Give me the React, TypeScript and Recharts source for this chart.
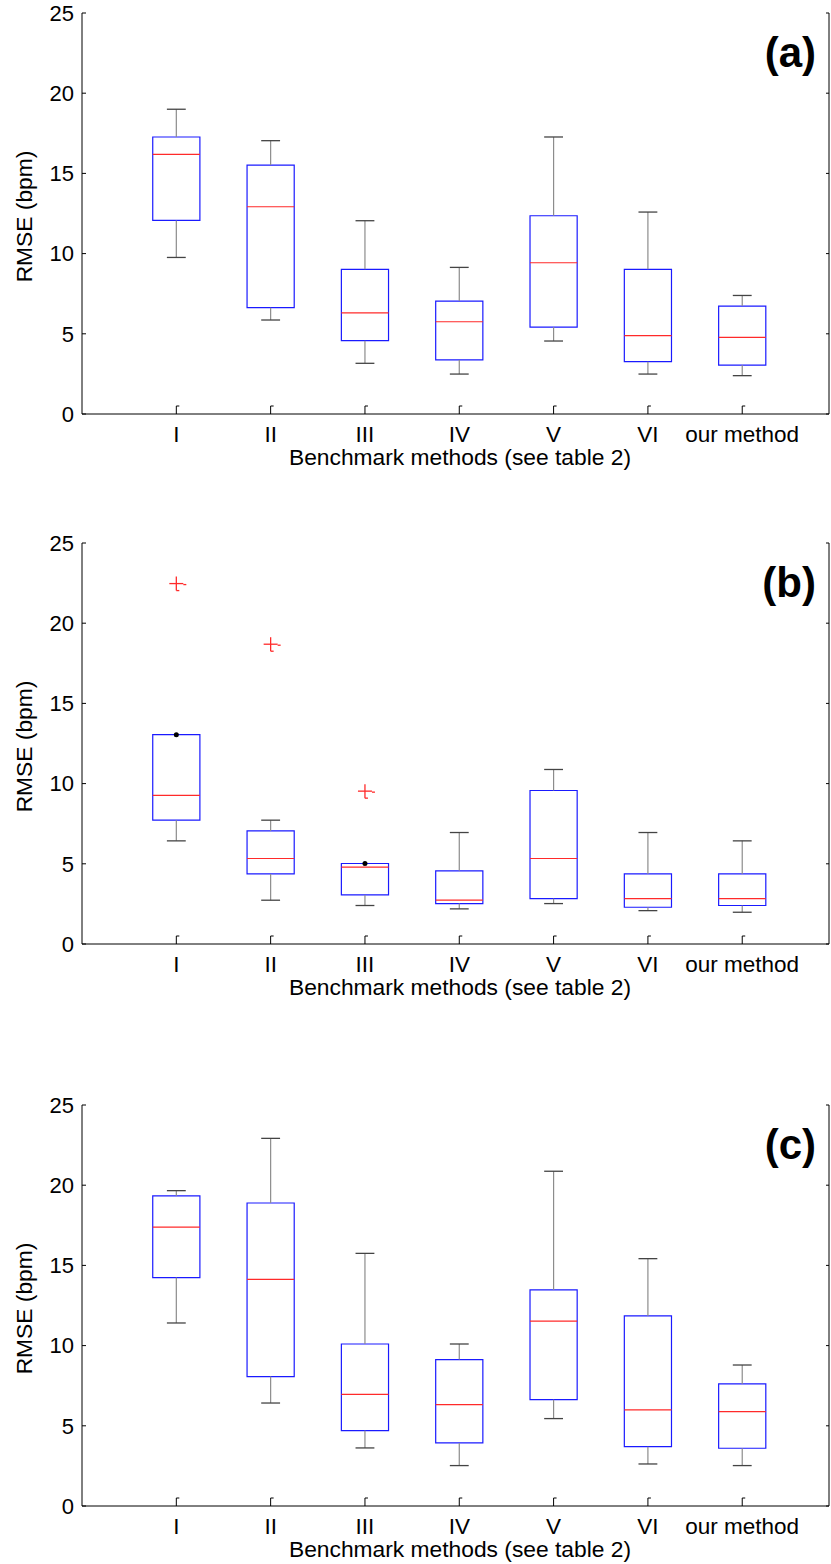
import React from "react";
import {
  ComposedChart,
  XAxis,
  YAxis,
  Scatter,
  ReferenceArea,
  ReferenceLine,
} from "recharts";

// categories / tick labels
const CATEGORIES = ["I", "II", "III", "IV", "V", "VI", "our method"];
const CAT_POS = [1, 2, 3, 4, 5, 6, 7];
const Y_TICKS = [0, 5, 10, 15, 20, 25];

// panel (a)
const A_LOW = [9.76, 5.86, 3.16, 2.49, 4.55, 2.49, 2.39];
const A_Q1 = [12.07, 6.63, 4.57, 3.37, 5.42, 3.26, 3.05];
const A_MED = [16.19, 12.92, 6.3, 5.75, 9.43, 4.88, 4.78];
const A_Q3 = [17.27, 15.52, 9.02, 7.04, 12.36, 9.02, 6.73];
const A_HIGH = [19.0, 17.04, 12.05, 9.14, 17.27, 12.59, 7.39];
const A_OUT_CAT: number[] = [];
const A_OUT_VAL: number[] = [];

// panel (b)
const B_LOW = [6.43, 2.73, 2.4, 2.19, 2.52, 2.08, 1.98];
const B_Q1 = [7.72, 4.37, 3.06, 2.52, 2.83, 2.29, 2.4];
const B_MED = [9.26, 5.33, 4.79, 2.73, 5.33, 2.83, 2.83];
const B_Q3 = [13.05, 7.05, 5.02, 4.56, 9.57, 4.37, 4.37];
const B_HIGH = [13.05, 7.72, 5.02, 6.95, 10.88, 6.95, 6.43];
const B_OUT_CAT = [1, 2, 3];
const B_OUT_VAL = [22.47, 18.69, 9.53];

// panel (c)
const C_LOW = [11.41, 6.42, 3.62, 2.52, 5.45, 2.62, 2.52];
const C_Q1 = [14.24, 8.07, 4.7, 3.93, 6.63, 3.7, 3.6];
const C_MED = [17.39, 14.13, 6.96, 6.32, 11.53, 5.99, 5.88];
const C_Q3 = [19.33, 18.89, 10.1, 9.13, 13.47, 11.85, 7.61];
const C_HIGH = [19.66, 22.92, 15.75, 10.1, 20.87, 15.42, 8.79];
const C_OUT_CAT: number[] = [];
const C_OUT_VAL: number[] = [];

const FONT = "'Liberation Sans', Arial, sans-serif";
const BOX_HALF = 0.25;
const CAP_HALF = 0.1;

const LeftTick = (props: any) => {
  const { x, y, payload } = props;
  return (
    <g>
      <line x1={x} x2={x + 4} y1={y} y2={y} stroke="#000" />
      <text x={x - 8} y={y + 7.8} textAnchor="end" fontSize={22} fontFamily={FONT} fill="#000">
        {payload.value}
      </text>
    </g>
  );
};

const RightTick = (props: any) => {
  const { x, y } = props;
  return <line x1={x - 3} x2={x} y1={y} y2={y} stroke="#000" />;
};

const BottomTick = (props: any) => {
  const { x, y, payload } = props;
  return (
    <g>
      <path d={`M${x},${y} V${y - 8} h3`} stroke="#000" fill="none" />
      <text x={x} y={y + 27.5} textAnchor="middle" fontSize={22.5} fontFamily={FONT} fill="#000">
        {CATEGORIES[payload.value - 1]}
      </text>
    </g>
  );
};

const TopTick = (props: any) => {
  const { x, y } = props;
  return <path d={`M${x},${y} V${y + 8} h3`} stroke="#000" fill="none" />;
};

const XLabel = (props: any) => {
  const vb = props.viewBox || { x: 82, y: 414, width: 747, height: 67 };
  return (
    <text x={vb.x + vb.width / 2 + 4.5} y={vb.y + 51} textAnchor="middle" fontSize={22.8} fontFamily={FONT} fill="#000">
      Benchmark methods (see table 2)
    </text>
  );
};

const YLabel = (props: any) => {
  const vb = props.viewBox || { x: 0, y: 13, width: 82, height: 401 };
  const cx = vb.x + 32;
  const cy = vb.y + vb.height / 2 + 3;
  return (
    <text x={cx} y={cy} transform={`rotate(-90 ${cx} ${cy})`} textAnchor="middle" fontSize={22.8} fontFamily={FONT} fill="#000">
      RMSE (bpm)
    </text>
  );
};

const PlusMark = (props: any) => {
  const { cx, cy } = props;
  return (
    <g stroke="#ff2a2a" strokeWidth={1.3} fill="none">
      <line x1={cx - 7} x2={cx + 7} y1={cy} y2={cy} />
      <line x1={cx} x2={cx} y1={cy - 7} y2={cy + 7} />
      <line x1={cx + 7} x2={cx + 10} y1={cy + 1} y2={cy + 1} />
      <line x1={cx} x2={cx + 3} y1={cy + 7} y2={cy + 7} />
    </g>
  );
};

const DotMark = (props: any) => {
  const { cx, cy } = props;
  return <circle cx={cx} cy={cy} r={2.5} fill="#000" />;
};

type PanelProps = {
  top: number;
  tag: string;
  low: number[];
  q1: number[];
  med: number[];
  q3: number[];
  high: number[];
  outCat: number[];
  outVal: number[];
};

function BoxPanel({ top, tag, low, q1, med, q3, high, outCat, outVal }: PanelProps) {
  const outliers = outCat.map((c, i) => ({ x: c, y: outVal[i] }));
  // whisker end equal to box edge is drawn as a dot
  const dots = CAT_POS.filter((_, i) => high[i] <= q3[i]).map((c) => ({ x: c, y: q3[c - 1] }));

  return (
    <div style={{ position: "absolute", left: 0, top, width: 831, height: 481 }}>
      <ComposedChart width={831} height={481} margin={{ top: 13, right: 0, bottom: 0, left: 0 }}>
        <XAxis
          type="number"
          dataKey="x"
          domain={[0, 7.92]}
          ticks={CAT_POS}
          interval={0}
          allowDataOverflow
          height={67}
          tickSize={0}
          tickMargin={0}
          tick={<BottomTick />}
          axisLine={{ stroke: "#000" }}
          label={<XLabel />}
        />
        <XAxis
          xAxisId="top"
          orientation="top"
          type="number"
          domain={[0, 7.92]}
          ticks={CAT_POS}
          interval={0}
          allowDataOverflow
          height={0}
          tickSize={0}
          tickMargin={0}
          tick={<TopTick />}
          axisLine={{ stroke: "#000" }}
        />
        <YAxis
          type="number"
          dataKey="y"
          domain={[0, 25]}
          ticks={Y_TICKS}
          interval={0}
          allowDataOverflow
          width={82}
          tickSize={0}
          tickMargin={0}
          tick={<LeftTick />}
          axisLine={{ stroke: "#000" }}
          label={<YLabel />}
        />
        <YAxis
          yAxisId="right"
          orientation="right"
          type="number"
          domain={[0, 25]}
          ticks={Y_TICKS}
          interval={0}
          allowDataOverflow
          width={2}
          tickSize={0}
          tickMargin={0}
          tick={<RightTick />}
          axisLine={{ stroke: "#000" }}
        />

        {CAT_POS.map((c, i) => (
          <React.Fragment key={c}>
            {high[i] > q3[i] && (
              <ReferenceLine segment={[{ x: c, y: q3[i] }, { x: c, y: high[i] }]} stroke="#8c8c8c" strokeWidth={1.2} />
            )}
            {low[i] < q1[i] && (
              <ReferenceLine segment={[{ x: c, y: low[i] }, { x: c, y: q1[i] }]} stroke="#8c8c8c" strokeWidth={1.2} />
            )}
            {high[i] > q3[i] && (
              <ReferenceLine
                segment={[{ x: c - CAP_HALF, y: high[i] }, { x: c + CAP_HALF, y: high[i] }]}
                stroke="#444"
                strokeWidth={1.3}
              />
            )}
            <ReferenceLine
              segment={[{ x: c - CAP_HALF, y: low[i] }, { x: c + CAP_HALF, y: low[i] }]}
              stroke="#444"
              strokeWidth={1.3}
            />
            <ReferenceArea
              x1={c - BOX_HALF}
              x2={c + BOX_HALF}
              y1={q1[i]}
              y2={q3[i]}
              fill="none"
              fillOpacity={0}
              stroke="#1a1aff"
              strokeWidth={1.2}
            />
            <ReferenceLine
              segment={[{ x: c - BOX_HALF, y: med[i] }, { x: c + BOX_HALF, y: med[i] }]}
              stroke="#ff2a2a"
              strokeWidth={1.2}
            />
          </React.Fragment>
        ))}

        <Scatter data={outliers} shape={<PlusMark />} isAnimationActive={false} />
        <Scatter data={dots} shape={<DotMark />} isAnimationActive={false} />
      </ComposedChart>
      <svg width={831} height={481} style={{ position: "absolute", left: 0, top: 0, pointerEvents: "none" }}>
        <text x={816} y={67} textAnchor="end" fontSize={42} fontWeight="bold" fontFamily={FONT} fill="#000">
          {tag}
        </text>
      </svg>
    </div>
  );
}

export default function App() {
  return (
    <div style={{ position: "absolute", left: 0, top: 0, width: 831, height: 1564, background: "#fff" }}>
      <BoxPanel top={0} tag="(a)" low={A_LOW} q1={A_Q1} med={A_MED} q3={A_Q3} high={A_HIGH} outCat={A_OUT_CAT} outVal={A_OUT_VAL} />
      <BoxPanel top={530} tag="(b)" low={B_LOW} q1={B_Q1} med={B_MED} q3={B_Q3} high={B_HIGH} outCat={B_OUT_CAT} outVal={B_OUT_VAL} />
      <BoxPanel top={1092} tag="(c)" low={C_LOW} q1={C_Q1} med={C_MED} q3={C_Q3} high={C_HIGH} outCat={C_OUT_CAT} outVal={C_OUT_VAL} />
    </div>
  );
}
